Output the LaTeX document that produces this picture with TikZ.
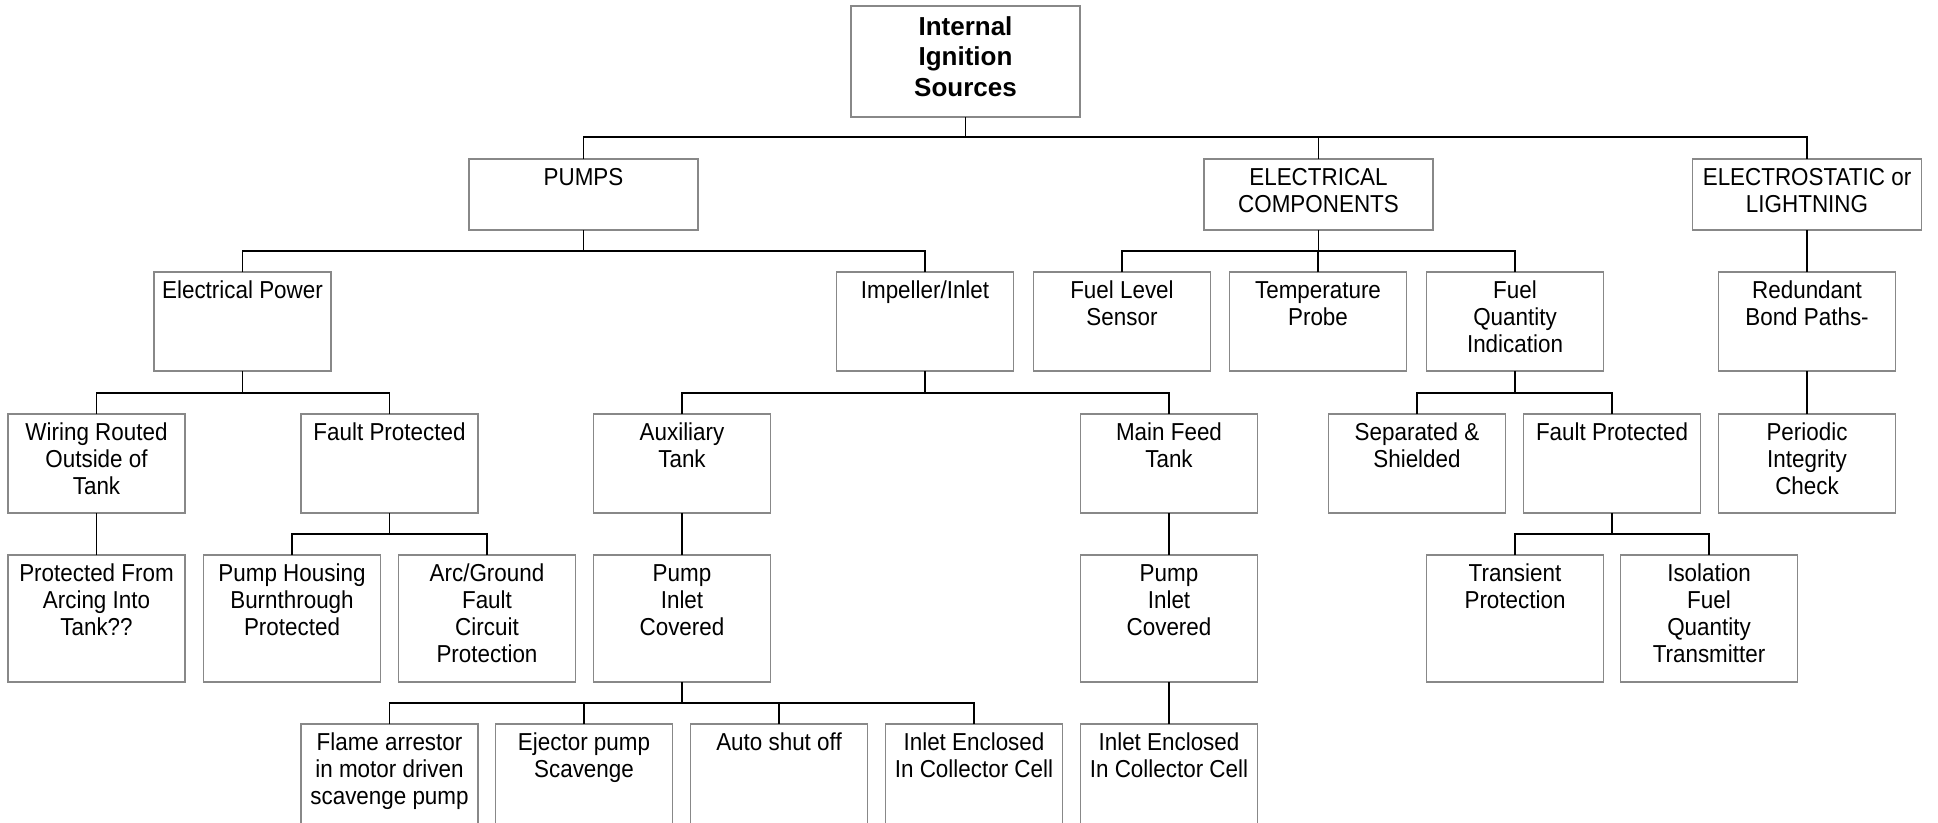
\documentclass[tikz,border=0pt]{standalone}
\usepackage{fontspec}
\setmainfont{Liberation Sans}[FakeStretch=0.915]
\newfontfamily\rootfont{Liberation Sans}
\usetikzlibrary{calc}
\definecolor{boxgray}{RGB}{136,136,136}
\newcommand\bt[3]{\begin{minipage}[c][#2][t]{#1}\centering\rule{0pt}{26pt}#3\end{minipage}}
\begin{document}
\begin{tikzpicture}[x=1pt,y=-1pt,
  box/.style={draw=boxgray, line width=1.8pt, inner sep=0pt, outer sep=0pt, fill=white,
    font=\fontsize{24.5}{27.3}\selectfont},
  conn/.style={draw=black, line width=1.8pt}]
\clip (0,0) rectangle (1938,822);
\fill[white] (0,0) rectangle (1938,822);
% root
\node[box, font=\rootfont\bfseries\fontsize{26}{30.8}\selectfont] (root) at (965.5,61.5)
  {\begin{minipage}[c][111pt][t]{229pt}\centering\rule{0pt}{29pt}Internal\\Ignition\\Sources\end{minipage}};
% level 1
\node[box] (pumps) at (583.5,194.5) {\bt{229pt}{71pt}{PUMPS}};
\node[box] (elec)  at (1318.5,194.5) {\bt{229pt}{71pt}{ELECTRICAL\\COMPONENTS}};
\node[box] (estat) at (1807,194.5) {\bt{229pt}{71pt}{ELECTROSTATIC or\\LIGHTNING}};
% level 2
\node[box] (epower) at (242.5,321.5) {\bt{177pt}{99pt}{Electrical Power}};
\node[box] (imp)    at (925,321.5)   {\bt{177pt}{99pt}{Impeller/Inlet}};
\node[box] (flevel) at (1122,321.5)  {\bt{177pt}{99pt}{Fuel Level\\Sensor}};
\node[box] (temp)   at (1318,321.5)  {\bt{177pt}{99pt}{Temperature\\Probe}};
\node[box] (fqi)    at (1515,321.5)  {\bt{177pt}{99pt}{Fuel\\Quantity\\Indication}};
\node[box] (redund) at (1807,321.5)  {\bt{177pt}{99pt}{Redundant\\Bond Paths-}};
% level 3
\node[box] (wiring) at (96.5,463.5)  {\bt{177pt}{99pt}{Wiring Routed\\Outside of\\Tank}};
\node[box] (fpa)    at (389.5,463.5) {\bt{177pt}{99pt}{Fault Protected}};
\node[box] (aux)    at (682,463.5)   {\bt{177pt}{99pt}{Auxiliary\\Tank}};
\node[box] (mainf)  at (1169,463.5)  {\bt{177pt}{99pt}{Main Feed\\Tank}};
\node[box] (sep)    at (1417,463.5)  {\bt{177pt}{99pt}{Separated \&\\Shielded}};
\node[box] (fpb)    at (1612,463.5)  {\bt{177pt}{99pt}{Fault Protected}};
\node[box] (period) at (1807,463.5)  {\bt{177pt}{99pt}{Periodic\\Integrity\\Check}};
% level 4
\node[box] (prot)   at (96.5,618.5)  {\bt{177pt}{127pt}{Protected From\\Arcing Into\\Tank??}};
\node[box] (phous)  at (292,618.5)   {\bt{177pt}{127pt}{Pump Housing\\Burnthrough\\Protected}};
\node[box] (arc)    at (487,618.5)   {\bt{177pt}{127pt}{Arc/Ground\\Fault\\Circuit\\Protection}};
\node[box] (pica)   at (682,618.5)   {\bt{177pt}{127pt}{Pump\\Inlet\\Covered}};
\node[box] (picm)   at (1169,618.5)  {\bt{177pt}{127pt}{Pump\\Inlet\\Covered}};
\node[box] (trans)  at (1515,618.5)  {\bt{177pt}{127pt}{Transient\\Protection}};
\node[box] (iso)    at (1709,618.5)  {\bt{177pt}{127pt}{Isolation\\Fuel\\Quantity\\Transmitter}};
% level 5
\node[box] (flame)  at (389.5,787.5) {\bt{177pt}{127pt}{Flame arrestor\\in motor driven\\scavenge pump}};
\node[box] (eject)  at (584,787.5)   {\bt{177pt}{127pt}{Ejector pump\\Scavenge}};
\node[box] (auto)   at (779,787.5)   {\bt{177pt}{127pt}{Auto shut off}};
\node[box] (inla)   at (974,787.5)   {\bt{177pt}{127pt}{Inlet Enclosed\\In Collector Cell}};
\node[box] (inlm)   at (1169,787.5)  {\bt{177pt}{127pt}{Inlet Enclosed\\In Collector Cell}};
% connectors
\foreach \c in {pumps,elec,estat} \draw[conn] (\c.north) -- ++(0,-22) -| (root.south);
\foreach \c in {epower,imp} \draw[conn] (\c.north) -- ++(0,-21) -| (pumps.south);
\foreach \c in {flevel,temp,fqi} \draw[conn] (\c.north) -- ++(0,-21) -| (elec.south);
\draw[conn] (redund.north) -- (estat.south);
\foreach \c in {wiring,fpa} \draw[conn] (\c.north) -- ++(0,-21) -| (epower.south);
\foreach \c in {aux,mainf} \draw[conn] (\c.north) -- ++(0,-21) -| (imp.south);
\foreach \c in {sep,fpb} \draw[conn] (\c.north) -- ++(0,-21) -| (fqi.south);
\draw[conn] (period.north) -- (redund.south);
\draw[conn] (prot.north) -- (wiring.south);
\foreach \c in {phous,arc} \draw[conn] (\c.north) -- ++(0,-21) -| (fpa.south);
\draw[conn] (pica.north) -- (aux.south);
\draw[conn] (picm.north) -- (mainf.south);
\foreach \c in {trans,iso} \draw[conn] (\c.north) -- ++(0,-21) -| (fpb.south);
\foreach \c in {flame,eject,auto,inla} \draw[conn] (\c.north) -- ++(0,-21) -| (pica.south);
\draw[conn] (inlm.north) -- (picm.south);
\end{tikzpicture}
\end{document}
